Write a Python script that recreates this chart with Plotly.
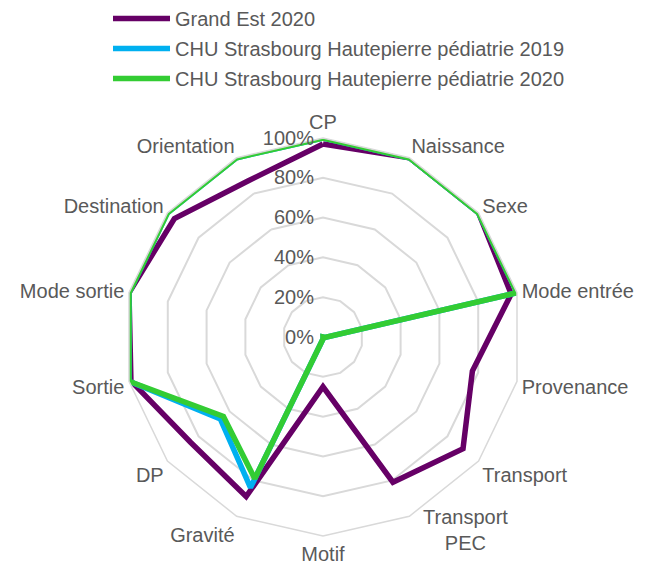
import plotly.graph_objects as go

categories = ["CP", "Naissance", "Sexe", "Mode entrée", "Provenance", "Transport",
              "Transport PEC", "Motif", "Gravité", "DP", "Sortie", "Mode sortie",
              "Destination", "Orientation"]
category_ticktext = ["CP", "Naissance", "Sexe", "Mode entrée", "Provenance", "Transport",
                     "", "Motif", "Gravité", "DP", "Sortie", "Mode sortie",
                     "Destination", "Orientation"]

grand_est_2020 = [0.97, 1.00, 1.00, 0.97, 0.77, 0.90, 0.81, 0.25, 0.89, 0.85, 0.99, 1.00, 0.955, 0.87]
chu_2019 = [1.00, 1.00, 1.00, 1.00, 0.01, 0.0, 0.0, 0.01, 0.84, 0.66, 1.00, 1.00, 1.00, 1.00]
chu_2020 = [1.00, 1.00, 1.00, 1.00, 0.01, 0.0, 0.0, 0.01, 0.79, 0.64, 1.00, 1.00, 1.00, 1.00]

series_names = ["Grand Est 2020",
                "CHU Strasbourg Hautepierre pédiatrie 2019",
                "CHU Strasbourg Hautepierre pédiatrie 2020"]
series_values = [grand_est_2020, chu_2019, chu_2020]
series_colors = ["#660066", "#00B0F0", "#33CC33"]

radial_ticks = [0, 0.2, 0.4, 0.6, 0.8, 1.0]
radial_ticktext = ["0%\u00a0", "20%\u00a0", "40%\u00a0", "60%\u00a0", "80%\u00a0", "100%\u00a0"]

fig = go.Figure()
for name, vals, col in zip(series_names, series_values, series_colors):
    fig.add_trace(go.Scatterpolar(
        r=vals + [vals[0]],
        theta=categories + [categories[0]],
        mode="lines",
        name=name,
        legendgroup=name,
        line=dict(color=col, width=5.5),
    ))

W, H = 655, 563
cx, cy, R = 315, 329, 199
fig.update_layout(
    width=W, height=H,
    margin=dict(l=0, r=0, t=0, b=0, autoexpand=False),
    paper_bgcolor="white",
    plot_bgcolor="white",
    font=dict(family="Liberation Sans, Arial, sans-serif", size=20, color="#595959"),
    polar=dict(
        domain=dict(x=[(cx - R) / W, (cx + R) / W],
                    y=[(H - cy - R) / H, (H - cy + R) / H]),
        gridshape="linear",
        bgcolor="white",
        angularaxis=dict(
            rotation=90,
            direction="clockwise",
            showgrid=False,
            showline=True,
            linecolor="#D9D9D9",
            linewidth=1.5,
            ticks="",
            tickvals=categories,
            ticktext=category_ticktext,
            tickfont=dict(size=20, color="#595959"),
        ),
        radialaxis=dict(
            range=[0, 1],
            tickvals=radial_ticks,
            ticktext=radial_ticktext,
            angle=90,
            tickangle=90,
            side="counterclockwise",
            showline=False,
            ticks="",
            gridcolor="#D9D9D9",
            gridwidth=1.5,
            tickfont=dict(size=20, color="#595959"),
        ),
    ),
    legend=dict(
        x=100 / W, y=1.0 + 9 / H,
        xanchor="left", yanchor="top",
        itemwidth=57,
        tracegroupgap=1,
        font=dict(size=20, color="#595959"),
        bgcolor="rgba(0,0,0,0)",
    ),
    annotations=[dict(
        text="Transport<br>PEC",
        xref="paper", yref="paper",
        x=457 / W, y=(H - 522) / H,
        xanchor="center", yanchor="middle",
        align="center", showarrow=False,
        font=dict(size=20, color="#595959"),
    )],
)

fig.write_html("out.html")
